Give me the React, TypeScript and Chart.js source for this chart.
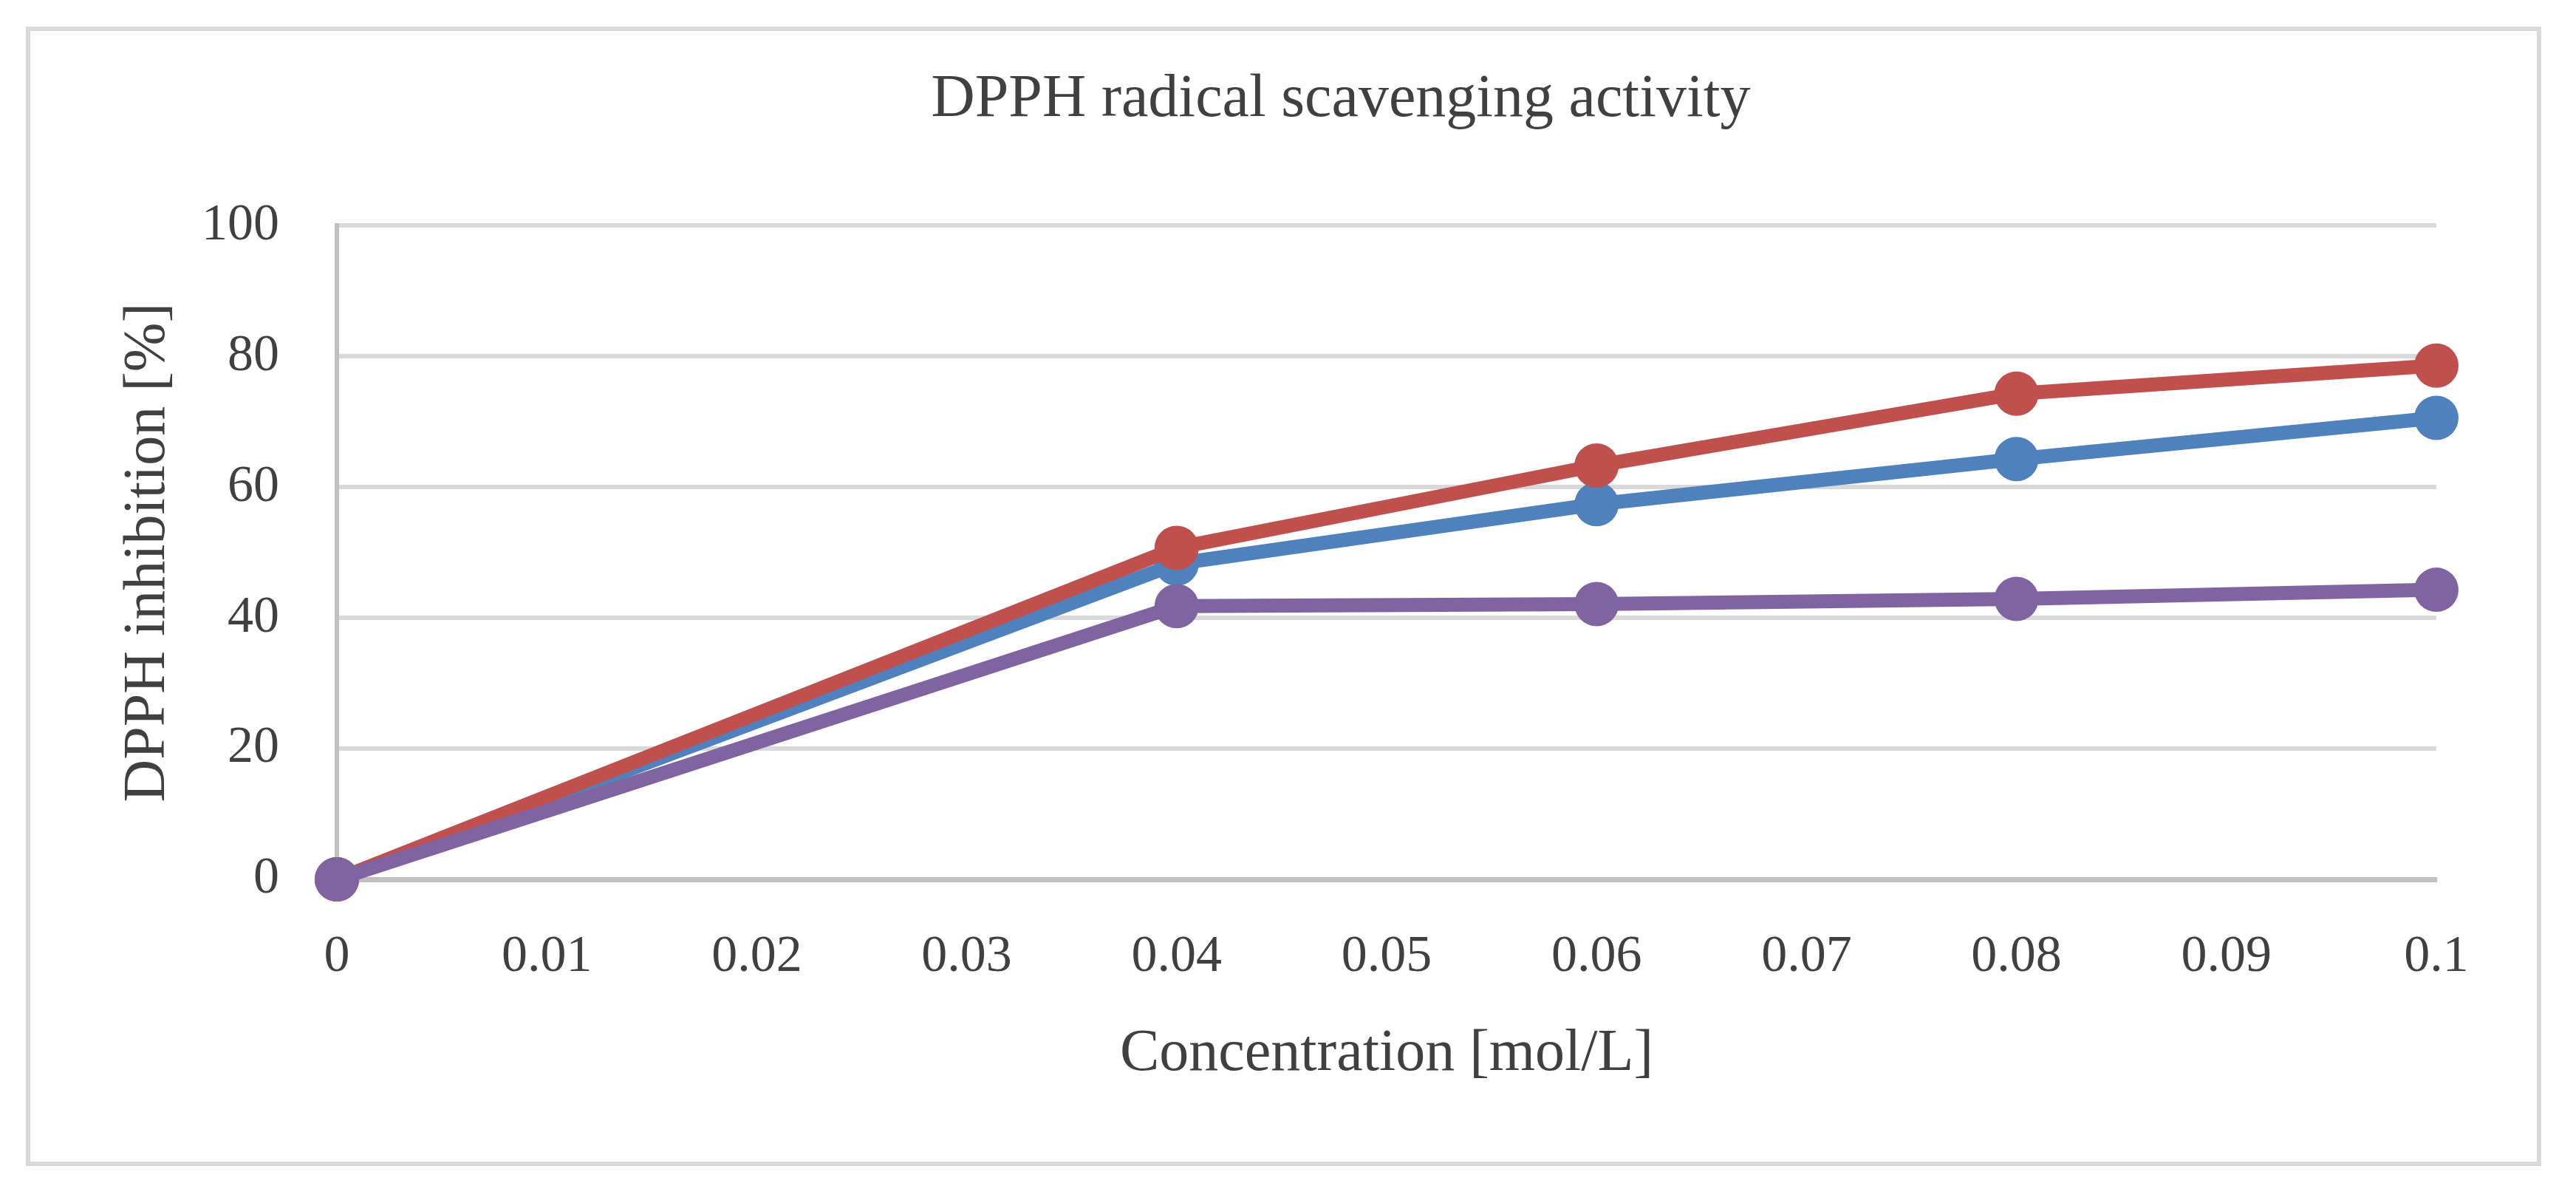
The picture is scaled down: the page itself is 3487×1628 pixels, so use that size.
import React, { useEffect, useRef } from "react";
import { Chart, registerables } from "chart.js";

Chart.register(...registerables);

const concentrations = [0, 0.04, 0.06, 0.08, 0.1];
const seriesBlue = [0, 48.3, 57.4, 64.3, 70.6];
const seriesRed = [0, 50.7, 63.3, 74.3, 78.6];
const seriesPurple = [0, 41.8, 42.1, 42.9, 44.3];

const xTickValues = [0, 0.01, 0.02, 0.03, 0.04, 0.05, 0.06, 0.07, 0.08, 0.09, 0.1];
const xTickLabels = ["0", "0.01", "0.02", "0.03", "0.04", "0.05", "0.06", "0.07", "0.08", "0.09", "0.1"];
const yTickValues = [0, 20, 40, 60, 80, 100];
const yTickLabels = ["0", "20", "40", "60", "80", "100"];

const chartTitle = "DPPH radical scavenging activity";
const xTitle = "Concentration [mol/L]";
const yTitle = "DPPH inhibition [%]";

const FONT = "'Liberation Serif', 'Times New Roman', serif";
const TEXT = "#404040";

const framePlugin = {
  id: "frame",
  beforeDraw(chart: any) {
    const { ctx, width, height } = chart;
    ctx.save();
    ctx.fillStyle = "#ffffff";
    ctx.fillRect(0, 0, width, height);
    ctx.strokeStyle = "#D9D9D9";
    ctx.lineWidth = 6;
    ctx.strokeRect(38, 39, width - 38 - 50, height - 39 - 53);
    ctx.restore();
  },
};

function toPoints(ys: number[]) {
  return ys.map((y, i) => ({ x: concentrations[i], y }));
}

export default function App() {
  const ref = useRef<HTMLCanvasElement | null>(null);

  useEffect(() => {
    document.body.style.margin = "0";
    document.body.style.overflow = "hidden";
    const canvas = ref.current;
    if (!canvas) return;
    const mk = (label: string, data: number[], color: string, order: number) => ({
      label,
      data: toPoints(data),
      borderColor: color,
      backgroundColor: color,
      borderWidth: 19,
      pointRadius: 30,
      pointHoverRadius: 30,
      pointBorderWidth: 0,
      pointBackgroundColor: color,
      pointBorderColor: color,
      tension: 0,
      order,
      clip: false as any,
    });
    const chart = new Chart(canvas, {
      type: "line",
      data: {
        datasets: [
          mk("Series 1", seriesBlue, "#4F81BD", 3),
          mk("Series 2", seriesRed, "#C0504D", 2),
          mk("Series 3", seriesPurple, "#8064A2", 1),
        ],
      },
      options: {
        animation: false,
        responsive: false,
        devicePixelRatio: 1,
        layout: { padding: { left: 143, right: 0, top: 0, bottom: 0 } },
        plugins: {
          legend: { display: false },
          tooltip: { enabled: false },
          title: {
            display: true,
            text: chartTitle,
            color: TEXT,
            font: { family: FONT, size: 82, weight: "normal" as any, lineHeight: 1.2 },
            padding: { top: 86, bottom: 121 },
          },
        },
        scales: {
          x: {
            type: "linear",
            min: 0,
            max: 0.1,
            afterFit(scale: any) {
              scale.height = 438;
            },
            afterBuildTicks(scale: any) {
              scale.ticks = xTickValues.map((v) => ({ value: v }));
            },
            grid: { display: false, drawTicks: false },
            border: { display: true, color: "#BFBFBF", width: 7 },
            ticks: {
              color: TEXT,
              padding: 64,
              maxRotation: 0,
              autoSkip: false,
              font: { family: FONT, size: 70, lineHeight: 1.2 },
              callback: (_v: any, i: number) => xTickLabels[i],
            },
            title: {
              display: true,
              text: xTitle,
              color: TEXT,
              font: { family: FONT, size: 80, lineHeight: 1.2 },
              padding: { top: 0, bottom: 153 },
            },
          } as any,
          y: {
            type: "linear",
            position: "left",
            min: 0,
            max: 100,
            afterFit(scale: any) {
              scale.width = 313;
            },
            afterBuildTicks(scale: any) {
              scale.ticks = yTickValues.map((v) => ({ value: v }));
            },
            grid: {
              drawTicks: false,
              lineWidth: 6,
              color: (c: any) => (c.tick && c.tick.value === 0 ? "#BFBFBF" : "#D9D9D9"),
            },
            border: { display: true, color: "#BFBFBF", width: 6 },
            ticks: {
              color: TEXT,
              padding: 78,
              autoSkip: false,
              font: { family: FONT, size: 70, lineHeight: 1.2 },
              callback: (_v: any, i: number) => yTickLabels[i],
            },
            title: {
              display: true,
              text: yTitle,
              color: TEXT,
              font: { family: FONT, size: 80, lineHeight: 1.2 },
              padding: { top: 10, bottom: 0 },
            },
          } as any,
          spacer: {
            type: "linear",
            position: "right",
            display: true,
            afterFit(scale: any) {
              scale.width = 189;
            },
            grid: { display: false, drawTicks: false },
            border: { display: false },
            ticks: { display: false },
            title: { display: false },
          } as any,
        },
      },
      plugins: [framePlugin],
    });
    return () => chart.destroy();
  }, []);

  return <canvas ref={ref} width={3487} height={1628} style={{ display: "block", width: 3487, height: 1628 }} />;
}
